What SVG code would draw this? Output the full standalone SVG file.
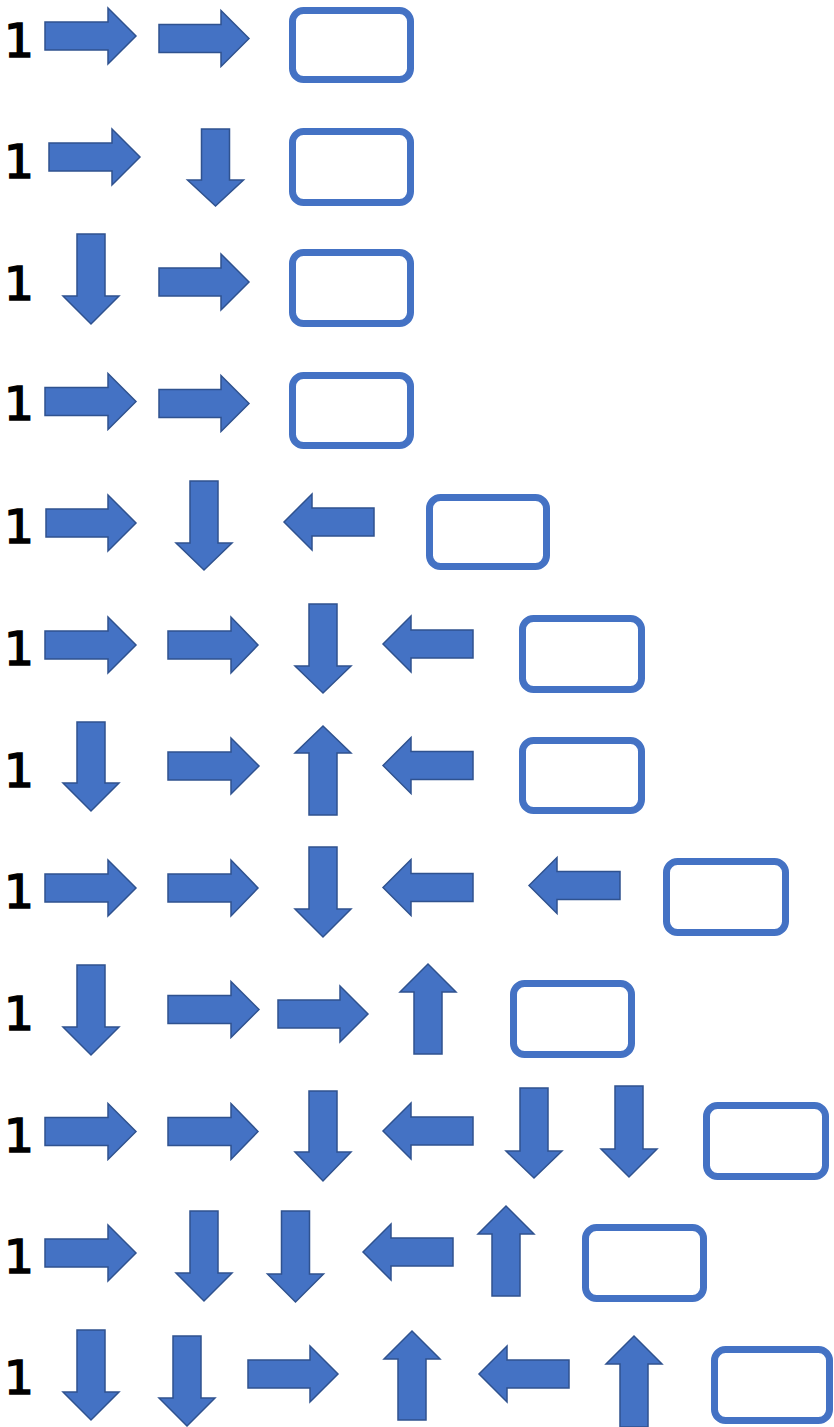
<svg xmlns="http://www.w3.org/2000/svg" width="834" height="1427" viewBox="0 0 834 1427">
<style>
.num{font-family:"DejaVu Sans","Liberation Sans",sans-serif;font-size:47px;fill:#000;stroke:#000;stroke-width:1.6;text-anchor:middle}
.ar{fill:#4472C4;stroke:#2F528F;stroke-width:1.5;stroke-linejoin:miter}
.bx{fill:#fff;stroke:#4472C4;stroke-width:7}
</style>
<rect width="834" height="1427" fill="#fff"/>
<g id="labels">
<text class="num" x="19" y="57">1</text>
<text class="num" x="19" y="178">1</text>
<text class="num" x="19" y="300">1</text>
<text class="num" x="19" y="420">1</text>
<text class="num" x="19" y="543">1</text>
<text class="num" x="19" y="665">1</text>
<text class="num" x="19" y="787">1</text>
<text class="num" x="19" y="908">1</text>
<text class="num" x="19" y="1030">1</text>
<text class="num" x="19" y="1152">1</text>
<text class="num" x="19" y="1273">1</text>
<text class="num" x="19" y="1394">1</text>
</g>
<g id="connectors">
<polygon id="r1a" class="ar" points="45,22 108,22 108,8 136,36 108,64 108,50 45,50"/>
<polygon id="r1b" class="ar" points="159,24.5 221,24.5 221,10.5 249,38.5 221,66.5 221,52.5 159,52.5"/>
<polygon id="r2a" class="ar" points="49,143 112,143 112,129 140,157 112,185 112,171 49,171"/>
<polygon id="r2b" class="ar" points="201.5,129 201.5,180 187.5,180 215.5,206 243.5,180 229.5,180 229.5,129"/>
<polygon id="r3a" class="ar" points="77,234 77,296 63,296 91,324 119,296 105,296 105,234"/>
<polygon id="r3b" class="ar" points="159,268 221,268 221,254 249,282 221,310 221,296 159,296"/>
<polygon id="r4a" class="ar" points="45,387.5 108,387.5 108,373.5 136,401.5 108,429.5 108,415.5 45,415.5"/>
<polygon id="r4b" class="ar" points="159,389.5 221,389.5 221,375.5 249,403.5 221,431.5 221,417.5 159,417.5"/>
<polygon id="r5a" class="ar" points="46,509 108,509 108,495 136,523 108,551 108,537 46,537"/>
<polygon id="r5b" class="ar" points="190,481 190,543 176,543 204,570 232,543 218,543 218,481"/>
<polygon id="r5c" class="ar" points="374,508 312,508 312,494 284,522 312,550 312,536 374,536"/>
<polygon id="r6a" class="ar" points="45,631 108,631 108,617 136,645 108,673 108,659 45,659"/>
<polygon id="r6b" class="ar" points="168,631 231,631 231,617 258,645 231,673 231,659 168,659"/>
<polygon id="r6c" class="ar" points="309,604 309,666 295,666 323,693 351,666 337,666 337,604"/>
<polygon id="r6d" class="ar" points="473,630 411,630 411,616 383,644 411,672 411,658 473,658"/>
<polygon id="r7a" class="ar" points="77,722 77,783 63,783 91,811 119,783 105,783 105,722"/>
<polygon id="r7b" class="ar" points="168,752 231,752 231,738 259,766 231,794 231,780 168,780"/>
<polygon id="r7c" class="ar" points="309,815 309,753 295,753 323,726 351,753 337,753 337,815"/>
<polygon id="r7d" class="ar" points="473,751.5 411,751.5 411,737.5 383,765.5 411,793.5 411,779.5 473,779.5"/>
<polygon id="r8a" class="ar" points="45,874 108,874 108,860 136,888 108,916 108,902 45,902"/>
<polygon id="r8b" class="ar" points="168,874 231,874 231,860 258,888 231,916 231,902 168,902"/>
<polygon id="r8c" class="ar" points="309,847 309,909 295,909 323,937 351,909 337,909 337,847"/>
<polygon id="r8d" class="ar" points="473,873.5 411,873.5 411,859.5 383,887.5 411,915.5 411,901.5 473,901.5"/>
<polygon id="r8e" class="ar" points="620,871.5 557,871.5 557,857.5 529,885.5 557,913.5 557,899.5 620,899.5"/>
<polygon id="r9a" class="ar" points="77,965 77,1027 63,1027 91,1055 119,1027 105,1027 105,965"/>
<polygon id="r9b" class="ar" points="168,995.5 231,995.5 231,981.5 259,1009.5 231,1037.5 231,1023.5 168,1023.5"/>
<polygon id="r9c" class="ar" points="278,1000 340,1000 340,986 368,1014 340,1042 340,1028 278,1028"/>
<polygon id="r9d" class="ar" points="414,1054 414,992 400,992 428,964 456,992 442,992 442,1054"/>
<polygon id="r10a" class="ar" points="45,1117.5 108,1117.5 108,1103.5 136,1131.5 108,1159.5 108,1145.5 45,1145.5"/>
<polygon id="r10b" class="ar" points="168,1117.5 231,1117.5 231,1103.5 258,1131.5 231,1159.5 231,1145.5 168,1145.5"/>
<polygon id="r10c" class="ar" points="309,1091 309,1152 295,1152 323,1181 351,1152 337,1152 337,1091"/>
<polygon id="r10d" class="ar" points="473,1117 411,1117 411,1103 383,1131 411,1159 411,1145 473,1145"/>
<polygon id="r10e" class="ar" points="520,1088 520,1151 506,1151 534,1178 562,1151 548,1151 548,1088"/>
<polygon id="r10f" class="ar" points="615,1086 615,1149 601,1149 629,1177 657,1149 643,1149 643,1086"/>
<polygon id="r11a" class="ar" points="45,1239 108,1239 108,1225 136,1253 108,1281 108,1267 45,1267"/>
<polygon id="r11b" class="ar" points="190,1211 190,1273 176,1273 204,1301 232,1273 218,1273 218,1211"/>
<polygon id="r11c" class="ar" points="281.5,1211 281.5,1274 267.5,1274 295.5,1302 323.5,1274 309.5,1274 309.5,1211"/>
<polygon id="r11d" class="ar" points="453,1238 391,1238 391,1224 363,1252 391,1280 391,1266 453,1266"/>
<polygon id="r11e" class="ar" points="492,1296 492,1234 478,1234 506,1206 534,1234 520,1234 520,1296"/>
<polygon id="r12a" class="ar" points="77,1330 77,1392 63,1392 91,1420 119,1392 105,1392 105,1330"/>
<polygon id="r12b" class="ar" points="173,1336 173,1398 159,1398 187,1426 215,1398 201,1398 201,1336"/>
<polygon id="r12c" class="ar" points="248,1360 310,1360 310,1346 338,1374 310,1402 310,1388 248,1388"/>
<polygon id="r12d" class="ar" points="398,1420 398,1359 384,1359 412,1331 440,1359 426,1359 426,1420"/>
<polygon id="r12e" class="ar" points="569,1360 507,1360 507,1346 479,1374 507,1402 507,1388 569,1388"/>
<polygon id="r12f" class="ar" points="620,1427 620,1364 606,1364 634,1336 662,1364 648,1364 648,1427"/>
</g>
<g id="box1"><rect class="bx" x="292.5" y="10.5" width="118" height="69" rx="11"/></g>
<g id="box2"><rect class="bx" x="292.5" y="131.5" width="118" height="71" rx="11"/></g>
<g id="box3"><rect class="bx" x="292.5" y="252.5" width="118" height="71" rx="11"/></g>
<g id="box4"><rect class="bx" x="292.5" y="375.5" width="118" height="70" rx="11"/></g>
<g id="box5"><rect class="bx" x="429.5" y="497.5" width="117" height="69" rx="11"/></g>
<g id="box6"><rect class="bx" x="522.5" y="618.5" width="119" height="71" rx="11"/></g>
<g id="box7"><rect class="bx" x="522.5" y="740.5" width="119" height="70" rx="11"/></g>
<g id="box8"><rect class="bx" x="666.5" y="861.5" width="119" height="71" rx="11"/></g>
<g id="box9"><rect class="bx" x="513.5" y="983.5" width="118" height="71" rx="11"/></g>
<g id="box10"><rect class="bx" x="706.5" y="1105.5" width="119" height="71" rx="11"/></g>
<g id="box11"><rect class="bx" x="585.5" y="1227.5" width="118" height="71" rx="11"/></g>
<g id="box12"><rect class="bx" x="714.5" y="1349.5" width="115" height="71" rx="11"/></g>
</svg>
